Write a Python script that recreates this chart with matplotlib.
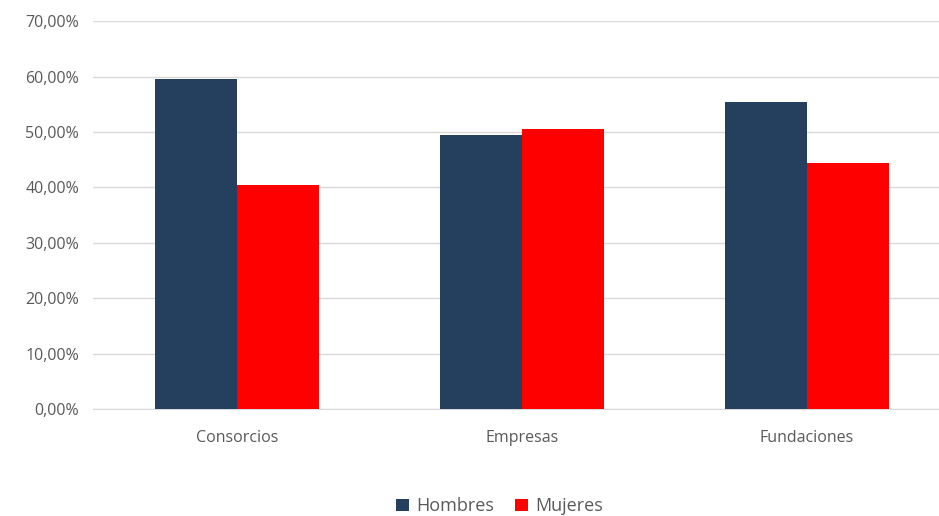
import matplotlib
matplotlib.use("Agg")
import matplotlib.pyplot as plt
import numpy as np
from matplotlib.ticker import FuncFormatter

categories = ["Consorcios", "Empresas", "Fundaciones"]
hombres = [59.5, 49.5, 55.5]
mujeres = [40.5, 50.5, 44.5]
yticks = [0, 10, 20, 30, 40, 50, 60, 70]

plt.rcParams['font.family'] = ['Open Sans', 'DejaVu Sans']

fig = plt.figure(figsize=(9.39, 5.16), dpi=100)
ax = fig.add_axes([0.099, 0.207, 0.901, 0.752])

x = np.arange(len(categories))
w = 0.288
ax.bar(x - w/2, hombres, w, color="#253f5f", label="Hombres", zorder=3)
ax.bar(x + w/2, mujeres, w, color="#ff0000", label="Mujeres", zorder=3)

ax.set_xlim(-0.505, 2.463)
ax.set_ylim(0, 70)
ax.set_yticks(yticks)
ax.yaxis.set_major_formatter(FuncFormatter(lambda v, p: f"{v:.2f}%".replace(".", ",")))
ax.set_xticks(x)
ax.set_xticklabels(categories)
ax.grid(axis="y", color="#d9d9d9", linewidth=1, zorder=0)
for s in ["top", "right", "left"]:
    ax.spines[s].set_visible(False)
ax.spines["bottom"].set_color("#d9d9d9")
ax.tick_params(axis="both", length=0, labelsize=11.5, colors="#595959")
ax.tick_params(axis="y", pad=10)
ax.tick_params(axis="x", pad=15)

fig.legend(loc="lower center", bbox_to_anchor=(0.532, -0.03), ncol=2, frameon=False,
           fontsize=13, handlelength=0.7, handleheight=0.7, handletextpad=0.4,
           columnspacing=1.2, labelcolor="#595959")

fig.savefig("out.png", dpi=100)
